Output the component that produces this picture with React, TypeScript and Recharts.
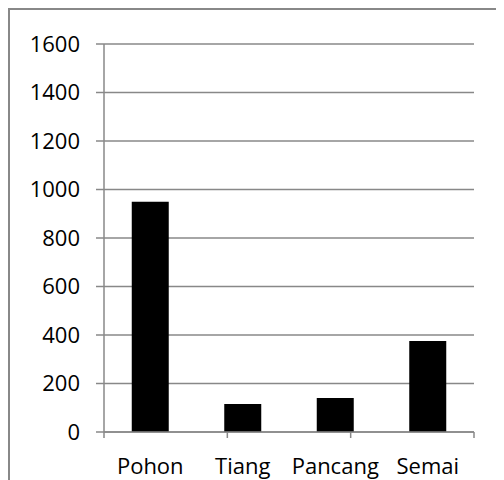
import { BarChart, Bar, XAxis, YAxis, CartesianGrid } from 'recharts'

const categories = ['Pohon', 'Tiang', 'Pancang', 'Semai']
const values = [950, 115, 140, 375]
const yTicks = [0, 200, 400, 600, 800, 1000, 1200, 1400, 1600]
const edgeTicks = [0, 1, 2, 3, 4]

const data = categories.map((name, i) => ({ name, total: values[i] }))

const font = "'Open Sans', sans-serif"
const gray = '#888888'

export default function App() {
  return (
    <div
      style={{
        borderTop: `2px solid ${gray}`,
        borderLeft: `2px solid ${gray}`,
        width: 494,
        height: 470,
        fontFamily: font,
      }}
    >
      <BarChart
        width={494}
        height={470}
        data={data}
        margin={{ top: 34, right: 30, left: 0, bottom: 0 }}
        barCategoryGap="30%"
      >
        <CartesianGrid vertical={false} stroke={gray} strokeWidth={1.5} />
        <XAxis
          xAxisId="b"
          dataKey="name"
          height={42}
          axisLine={false}
          tickLine={false}
          tickSize={0}
          tickMargin={20}
          tick={{ fill: '#000', fontSize: 22, fontFamily: font }}
        />
        <XAxis
          xAxisId="a"
          type="number"
          domain={[0, 4]}
          ticks={edgeTicks}
          tickFormatter={() => ''}
          height={6}
          tickSize={6}
          stroke={gray}
          axisLine={{ stroke: gray, strokeWidth: 1.5 }}
          tickLine={{ stroke: gray, strokeWidth: 1.5 }}
        />
        <YAxis
          width={94}
          domain={[0, 1600]}
          ticks={yTicks}
          interval={0}
          tickSize={8}
          tickMargin={16}
          axisLine={{ stroke: gray, strokeWidth: 1.5 }}
          tickLine={{ stroke: gray, strokeWidth: 1.5 }}
          tick={{ fill: '#000', fontSize: 22, fontFamily: font }}
        />
        <Bar xAxisId="b" dataKey="total" fill="#000" isAnimationActive={false} />
      </BarChart>
    </div>
  )
}
